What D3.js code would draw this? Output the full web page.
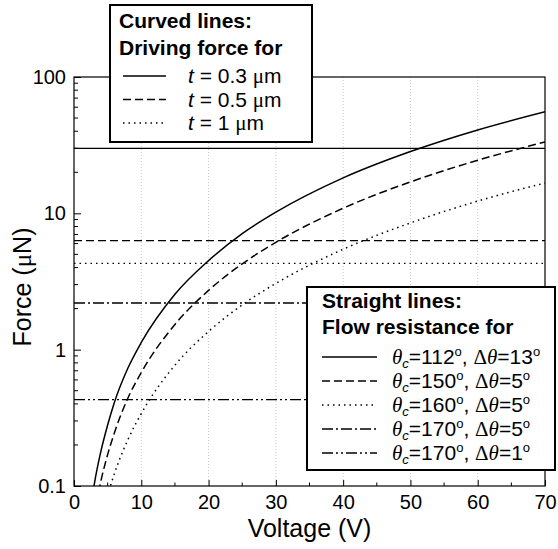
<!DOCTYPE html>
<html>
<head>
<meta charset="utf-8">
<script src="https://cdn.jsdelivr.net/npm/d3@7"></script>
<style>
  body { margin: 0; background: #fff; }
  text { font-family: Arial, "Liberation Sans", Helvetica, sans-serif; fill: #000; }
</style>
</head>
<body>
<div id="chart"></div>
<script>
// values
var voltage  = [2, 3, 4, 5, 6, 8, 10, 15, 20, 25, 30, 40, 50, 60, 70];
var forceT03 = [0.045, 0.102, 0.18, 0.28, 0.41, 0.73, 1.13, 2.55, 4.5, 7.1, 10.2, 18.2, 28.4, 40.9, 55.6];
var forceT05 = [0.027, 0.061, 0.109, 0.17, 0.245, 0.44, 0.68, 1.53, 2.72, 4.26, 6.13, 10.9, 17.0, 24.5, 33.4];
var forceT1  = [0.0136, 0.031, 0.054, 0.085, 0.123, 0.218, 0.34, 0.77, 1.36, 2.13, 3.06, 5.45, 8.5, 12.3, 16.7];
var thickness = ["0.3", "0.5", "1"];

var resistance = [30, 6.3, 4.3, 2.2, 0.43];
var thetaC     = ["112", "150", "160", "170", "170"];
var deltaTheta = ["13", "5", "5", "5", "1"];

var xTicks = [0, 10, 20, 30, 40, 50, 60, 70];
var xMinorTicks = [5, 15, 25, 35, 45, 55, 65];
var yTicks = [0.1, 1, 10, 100];
var yTickLabels = ["0.1", "1", "10", "100"];

// line styles
var curveDash = [null, "8,4", "1.5,4"];
var flatDash = [null, "8,4", "1.5,4", "11,3,2,3", "11,3,2,3,2,3"];

var W = 558, H = 549;
var pLeft = 74, pRight = 545, pTop = 77, pBottom = 486;
var serif = "'Liberation Serif', 'Times New Roman', serif";

var svg = d3.select("#chart").append("svg")
    .attr("width", W)
    .attr("height", H);

var x = d3.scaleLinear().domain([0, 70]).range([pLeft, pRight]);
var y = d3.scaleLog().domain([0.1, 100]).range([pBottom, pTop]);

svg.append("clipPath").attr("id", "plot-clip")
  .append("rect")
    .attr("x", pLeft).attr("y", pTop)
    .attr("width", pRight - pLeft).attr("height", pBottom - pTop);

// faint vertical grid
svg.append("g")
  .selectAll("line")
  .data(xTicks.slice(1, -1))
  .enter().append("line")
    .attr("x1", d => x(d)).attr("x2", d => x(d))
    .attr("y1", pTop).attr("y2", pBottom)
    .attr("stroke", "#c8c8c8")
    .attr("stroke-width", 1)
    .attr("stroke-dasharray", "1,2");

var plot = svg.append("g").attr("clip-path", "url(#plot-clip)");

// straight lines: flow resistance
plot.selectAll(".flat")
  .data(resistance)
  .enter().append("line")
    .attr("class", "flat")
    .attr("x1", pLeft).attr("x2", pRight)
    .attr("y1", d => y(d)).attr("y2", d => y(d))
    .attr("stroke", "#000")
    .attr("stroke-width", 1.3)
    .attr("stroke-dasharray", (d, i) => flatDash[i]);

// curved lines: driving force
var line = d3.line()
    .x(d => x(d[0]))
    .y(d => y(d[1]))
    .curve(d3.curveMonotoneX);

[forceT03, forceT05, forceT1].forEach(function(series, i) {
  plot.append("path")
    .datum(voltage.map((v, j) => [v, series[j]]))
    .attr("d", line)
    .attr("fill", "none")
    .attr("stroke", "#000")
    .attr("stroke-width", 1.5)
    .attr("stroke-dasharray", curveDash[i]);
});

// frame
svg.append("rect")
    .attr("x", pLeft).attr("y", pTop)
    .attr("width", pRight - pLeft).attr("height", pBottom - pTop)
    .attr("fill", "none")
    .attr("stroke", "#000")
    .attr("stroke-width", 1.2);

// x axis
var xAxis = svg.append("g")
    .attr("transform", "translate(0," + pBottom + ")")
    .call(d3.axisBottom(x).tickValues(xTicks).tickSizeInner(-6).tickSizeOuter(0).tickPadding(9));
xAxis.select(".domain").remove();
xAxis.selectAll(".tick text").attr("font-size", 20).attr("font-family", null);

svg.append("g")
  .selectAll("line")
  .data(xMinorTicks)
  .enter().append("line")
    .attr("x1", d => x(d)).attr("x2", d => x(d))
    .attr("y1", pBottom).attr("y2", pBottom - 3.5)
    .attr("stroke", "#000");

// y axis (log)
var yAxis = svg.append("g")
    .attr("transform", "translate(" + pLeft + ",0)")
    .call(d3.axisLeft(y).tickValues(yTicks).tickFormat((d, i) => yTickLabels[i])
      .tickSizeInner(-7).tickSizeOuter(0).tickPadding(8));
yAxis.select(".domain").remove();
yAxis.selectAll(".tick text").attr("font-size", 20).attr("font-family", null);

var yMinor = [];
yTicks.slice(0, -1).forEach(function(dec) {
  for (var k = 2; k <= 9; k++) yMinor.push(dec * k);
});
svg.append("g")
  .selectAll("line")
  .data(yMinor)
  .enter().append("line")
    .attr("x1", pLeft).attr("x2", pLeft + 4)
    .attr("y1", d => y(d)).attr("y2", d => y(d))
    .attr("stroke", "#000");

// axis titles
svg.append("text")
    .attr("x", (pLeft + pRight) / 2)
    .attr("y", 537)
    .attr("text-anchor", "middle")
    .attr("font-size", 25)
    .text("Voltage (V)");

var yt = svg.append("text")
    .attr("transform", "translate(31,287) rotate(-90)")
    .attr("text-anchor", "middle")
    .attr("font-size", 25);
yt.append("tspan").text("Force (");
yt.append("tspan").attr("font-family", serif).text("\u03bc");
yt.append("tspan").text("N)");

// legend: curved lines
var lg1 = svg.append("g");
lg1.append("rect")
    .attr("x", 110).attr("y", 5).attr("width", 202).attr("height", 137)
    .attr("fill", "#fff").attr("stroke", "#000").attr("stroke-width", 2);
lg1.append("text").attr("x", 119).attr("y", 28).attr("font-size", 21).attr("font-weight", "bold").text("Curved lines:");
lg1.append("text").attr("x", 119).attr("y", 55).attr("font-size", 21).attr("font-weight", "bold").text("Driving force for");
thickness.forEach(function(t, i) {
  var ry = 76 + i * 23.5;
  lg1.append("line")
      .attr("x1", 123).attr("x2", 166).attr("y1", ry).attr("y2", ry)
      .attr("stroke", "#000").attr("stroke-width", 1.5)
      .attr("stroke-dasharray", curveDash[i]);
  var tx = lg1.append("text").attr("x", 188).attr("y", ry + 7).attr("font-size", 21);
  tx.append("tspan").attr("font-style", "italic").text("t");
  tx.append("tspan").text(" = " + t + " ");
  tx.append("tspan").attr("font-family", serif).text("\u03bc");
  tx.append("tspan").text("m");
});

// legend: straight lines
var lg2 = svg.append("g");
lg2.append("rect")
    .attr("x", 307).attr("y", 287).attr("width", 248).attr("height", 183)
    .attr("fill", "#fff").attr("stroke", "#000").attr("stroke-width", 2);
lg2.append("text").attr("x", 322).attr("y", 308).attr("font-size", 21).attr("font-weight", "bold").text("Straight lines:");
lg2.append("text").attr("x", 322).attr("y", 334).attr("font-size", 21).attr("font-weight", "bold").text("Flow resistance for");
resistance.forEach(function(r, i) {
  var ry = 357 + i * 24;
  lg2.append("line")
      .attr("x1", 322).attr("x2", 377).attr("y1", ry).attr("y2", ry)
      .attr("stroke", "#000").attr("stroke-width", 1.5)
      .attr("stroke-dasharray", flatDash[i]);
  var tx = lg2.append("text").attr("x", 392).attr("y", ry + 7).attr("font-size", 21);
  tx.append("tspan").attr("font-family", serif).attr("font-style", "italic").text("\u03b8");
  tx.append("tspan").attr("font-style", "italic").attr("font-size", 13).attr("dy", 4).text("c");
  tx.append("tspan").attr("dy", -4).text("=" + thetaC[i]);
  tx.append("tspan").attr("font-size", 13).attr("dy", -8).text("o");
  tx.append("tspan").attr("dy", 8).text(", ");
  tx.append("tspan").attr("font-family", serif).text("\u0394");
  tx.append("tspan").attr("font-family", serif).attr("font-style", "italic").text("\u03b8");
  tx.append("tspan").text("=" + deltaTheta[i]);
  tx.append("tspan").attr("font-size", 13).attr("dy", -8).text("o");
});
</script>
</body>
</html>
